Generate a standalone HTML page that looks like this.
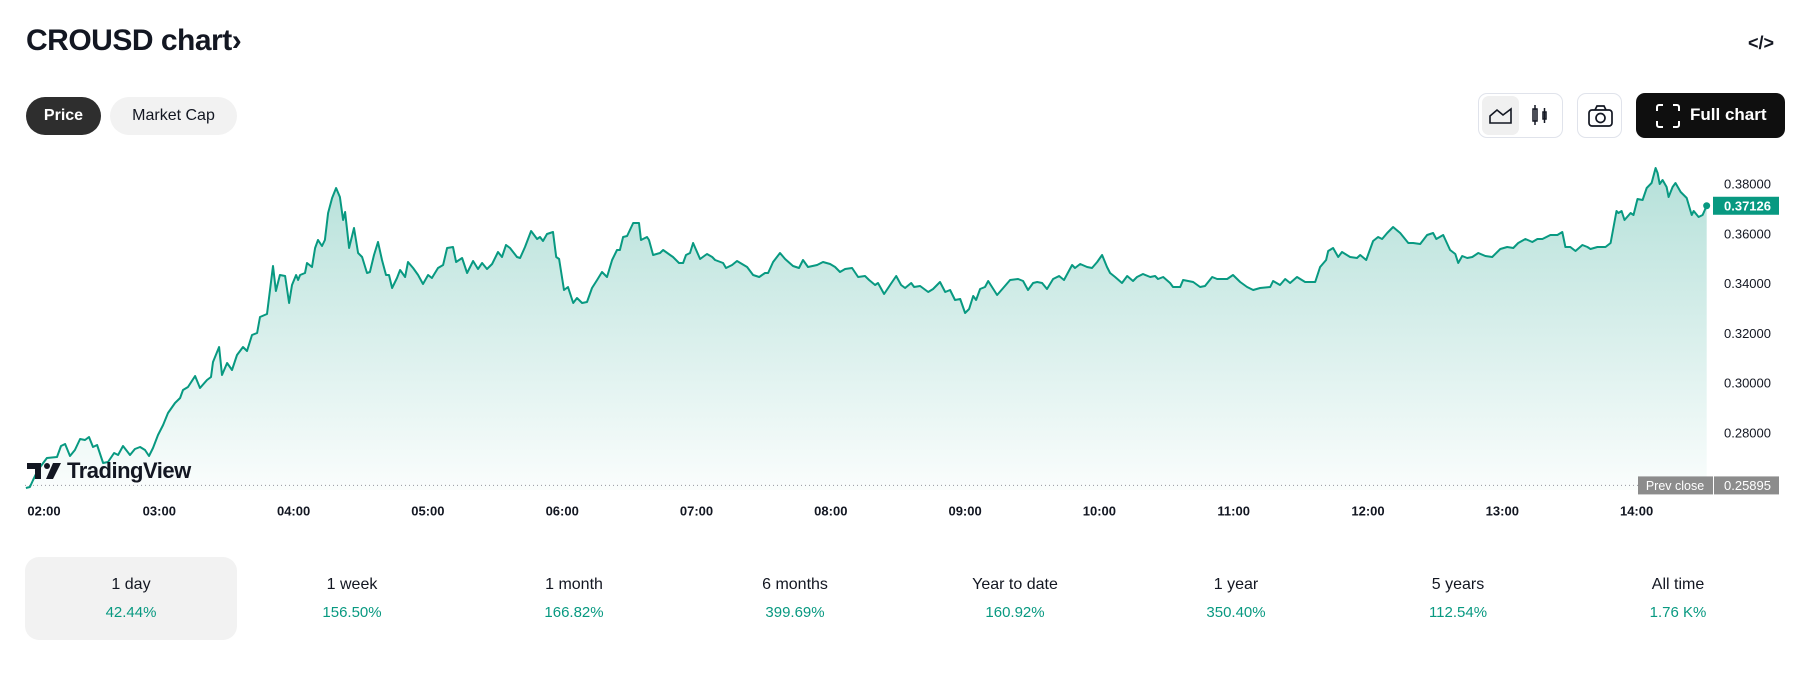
<!DOCTYPE html>
<html><head><meta charset="utf-8">
<style>
*{box-sizing:border-box;margin:0;padding:0}
body{width:1801px;height:698px;background:#fff;font-family:"Liberation Sans",sans-serif;color:#131722;position:relative;overflow:hidden}
.abs{position:absolute}
.pill{position:absolute;top:97px;height:38px;border-radius:19px;font-size:16px;display:flex;align-items:center;justify-content:center}
.btn{position:absolute;top:93px;height:45px;border:1px solid #e0e3eb;border-radius:9px}
.tab{position:absolute;top:557px;width:212px;height:83px;border-radius:14px;text-align:center}
.tab .l{position:absolute;top:19px;width:100%;font-size:16px;color:#131722}
.tab .v{position:absolute;top:47px;width:100%;font-size:15px;color:#089981}
</style></head><body>
<div class="abs" style="left:26px;top:24px;font-size:30px;font-weight:bold;letter-spacing:-0.5px">CROUSD chart<span style="font-size:30px">›</span></div>
<div class="abs" style="left:1748px;top:33px;font-size:18px;font-weight:bold">&lt;/&gt;</div>
<div class="pill" style="left:26px;width:75px;background:#2e2e2e;color:#fff;font-weight:bold">Price</div>
<div class="pill" style="left:110px;width:127px;background:#f2f2f2">Market Cap</div>
<div class="btn" style="left:1478px;width:85px">
  <div style="position:absolute;left:3px;top:2px;width:37px;height:39px;background:#f0f0f0;border-radius:7px">
    <svg width="37" height="39"><path d="M8 27 V20 L15 14 L21 19 L29 13 V27 Z" fill="none" stroke="#131722" stroke-width="1.6"/></svg></div>
  <div style="position:absolute;left:44px;top:2px;width:37px;height:39px">
    <svg width="37" height="39"><rect x="10" y="13" width="4" height="12" fill="none" stroke="#131722" stroke-width="1.5"/><line x1="12" y1="9" x2="12" y2="29" stroke="#131722" stroke-width="1.5"/><rect x="20" y="16" width="3" height="7" fill="none" stroke="#131722" stroke-width="1.5"/><line x1="21.5" y1="12" x2="21.5" y2="27" stroke="#131722" stroke-width="1.5"/></svg></div>
</div>
<div class="btn" style="left:1577px;width:45px">
  <svg width="45" height="45"><rect x="11" y="16" width="23" height="16" rx="3" fill="none" stroke="#131722" stroke-width="1.7"/><path d="M17 16 L19 12 H26 L28 16" fill="none" stroke="#131722" stroke-width="1.7"/><circle cx="22.5" cy="24" r="4.5" fill="none" stroke="#131722" stroke-width="1.7"/></svg></div>
<div class="abs" style="left:1636px;top:93px;width:149px;height:45px;background:#0f0f0f;border-radius:9px;color:#fff;font-weight:bold;font-size:17px">
  <svg class="abs" style="left:20px;top:11px" width="24" height="24"><path d="M1 7V3a2 2 0 0 1 2-2h4M17 1h4a2 2 0 0 1 2 2v4M23 17v4a2 2 0 0 1-2 2h-4M7 23H3a2 2 0 0 1-2-2v-4" fill="none" stroke="#fff" stroke-width="2"/></svg>
  <span class="abs" style="left:54px;top:12px">Full chart</span></div>

<svg id="chart" class="abs" style="left:0;top:150px" width="1801" height="380">
  <defs><linearGradient id="g" x1="0" y1="0" x2="0" y2="1"><stop offset="0" stop-color="#089981" stop-opacity="0.3"/><stop offset="1" stop-color="#089981" stop-opacity="0.02"/></linearGradient></defs>
  <g id="plot"></g>
</svg>
<div class="abs" style="left:27px;top:459px;height:24px;display:flex;align-items:center;background:rgba(255,255,255,0.0)">
  <svg width="36" height="20"><path d="M0 2H14V18H8V8H0Z" fill="#131722"/><circle cx="20" cy="5" r="3" fill="#131722"/><path d="M26 2H34L26 18H19Z" fill="#131722"/></svg>
  <span style="font-size:22px;font-weight:bold;margin-left:4px;letter-spacing:-0.5px">TradingView</span></div>

<div class="tab" style="left:25px;background:#f2f2f2"><div class="l">1 day</div><div class="v">42.44%</div></div>
<div class="tab" style="left:246px"><div class="l">1 week</div><div class="v">156.50%</div></div>
<div class="tab" style="left:468px"><div class="l">1 month</div><div class="v">166.82%</div></div>
<div class="tab" style="left:689px"><div class="l">6 months</div><div class="v">399.69%</div></div>
<div class="tab" style="left:909px"><div class="l">Year to date</div><div class="v">160.92%</div></div>
<div class="tab" style="left:1130px"><div class="l">1 year</div><div class="v">350.40%</div></div>
<div class="tab" style="left:1352px"><div class="l">5 years</div><div class="v">112.54%</div></div>
<div class="tab" style="left:1572px"><div class="l">All time</div><div class="v">1.76 K%</div></div>

<script>
const minutes=[0.4,2.2,3.6,5.8,9.8,14.3,16.1,17.9,20.1,22.3,24.6,26.8,28.6,30.4,32.2,34.9,37.1,39.8,41.6,43.8,46.9,49.1,51.4,53.6,55.4,57.2,59.4,61.7,63.9,67.0,69.3,70.6,72.8,76.0,78.2,81.3,83.1,84.0,86.7,88.0,90.3,92.5,94.7,97.4,99.2,101.4,103.7,105.0,108.1,110.8,112.1,113.9,116.2,118.0,119.3,121.1,122.0,122.9,125.1,126.0,128.2,129.6,130.9,132.7,134.0,135.4,137.2,139.0,140.7,142.1,143.0,144.8,147.0,148.8,150.6,152.8,154.1,155.9,157.7,159.5,161.3,162.6,164.0,166.2,167.6,169.8,171.1,173.4,175.6,177.8,180.1,181.8,184.5,186.8,188.6,191.2,192.6,195.3,197.5,200.2,202.4,204.2,206.4,208.7,211.3,213.1,214.9,216.7,219.8,221.2,223.4,226.1,228.8,230.1,231.4,233.2,235.9,237.3,238.6,240.8,242.6,244.9,246.6,248.9,251.1,253.3,255.6,257.8,260.0,262.3,264.5,265.8,267.2,269.0,271.7,274.3,275.2,277.9,278.8,280.6,283.7,285.1,288.2,289.5,292.2,294.0,295.3,297.1,298.5,301.6,304.7,307.0,308.3,311.9,313.2,315.9,318.1,322.6,325.3,328.0,330.6,332.0,334.2,337.3,339.6,343.1,345.8,347.6,349.8,353.9,356.5,359.7,361.9,364.1,366.4,369.5,372.2,375.3,377.1,379.8,381.1,383.8,386.5,389.2,391.4,393.2,395.9,397.2,399.9,403.5,405.7,408.8,411.1,413.3,415.5,417.8,420.0,421.8,423.6,424.9,426.7,428.9,430.3,434.3,437.0,440.1,443.7,445.9,448.1,450.4,452.2,454.4,456.6,459.3,462.0,464.2,467.8,469.1,471.4,474.5,476.7,479.0,481.2,483.4,484.8,487.0,490.1,492.4,495.0,496.8,499.5,502.7,504.9,506.2,508.5,511.6,512.9,516.1,517.4,521.9,525.0,527.2,530.4,532.6,537.1,539.7,542.9,546.0,548.7,551.8,556.3,557.6,560.7,563.0,565.2,568.3,571.9,576.4,578.6,581.3,582.2,584.4,586.7,588.4,592.0,595.1,596.5,599.2,602.3,604.5,606.3,608.6,611.2,614.4,618.0,620.2,623.3,626.4,629.1,630.5,633.6,636.7,639.0,640.3,642.1,644.3,646.6,649.3,652.4,655.5,659.1,662.2,664.9,667.1,670.3,673.4,675.7,677.9,681.5,684.6,686.8,688.2,690.4,692.7,695.8,698.0,699.4,702.5,706.1,708.4,711.0,711.9,713.3,714.6,717.3,718.6,720.4,722.7,724.5,726.7,728.5,729.4,730.3,731.6,733.4,734.3,736.1,737.4,739.7,742.4,744.6,745.5,747.7,749.5,751.3];
const prices=[0.2579,0.25832,0.26113,0.26514,0.26996,0.27036,0.27478,0.27558,0.27076,0.27317,0.27759,0.27719,0.2784,0.27438,0.27518,0.26795,0.26836,0.27197,0.27117,0.27478,0.27117,0.27358,0.27438,0.27317,0.27076,0.27398,0.2792,0.28321,0.28803,0.29205,0.29406,0.29727,0.29848,0.30289,0.29807,0.30129,0.30249,0.30852,0.31454,0.30329,0.30811,0.3053,0.31133,0.31454,0.31293,0.31936,0.32016,0.32659,0.32779,0.34707,0.33703,0.34345,0.34305,0.33221,0.33944,0.34345,0.34145,0.34345,0.34426,0.34827,0.34667,0.3543,0.35751,0.3551,0.35751,0.36835,0.37438,0.37839,0.37478,0.36554,0.36876,0.3543,0.36233,0.35229,0.35068,0.34426,0.34466,0.35149,0.35671,0.34948,0.34345,0.34345,0.33823,0.34225,0.34546,0.34265,0.34868,0.34627,0.34345,0.33984,0.34345,0.34225,0.34627,0.34747,0.3543,0.3547,0.34868,0.35028,0.34426,0.34908,0.34586,0.34827,0.34586,0.34787,0.35269,0.35068,0.3555,0.3543,0.35068,0.35028,0.3547,0.36112,0.35791,0.35872,0.35711,0.35992,0.36072,0.35068,0.34988,0.33743,0.33864,0.33221,0.33422,0.33221,0.33261,0.33823,0.34145,0.34466,0.34265,0.34948,0.35349,0.35349,0.35872,0.35912,0.36434,0.36434,0.35751,0.35872,0.35751,0.35149,0.35229,0.35349,0.35149,0.35068,0.34827,0.34827,0.35149,0.35229,0.35631,0.34988,0.35189,0.35068,0.34948,0.34827,0.34627,0.34747,0.34908,0.34667,0.34345,0.34265,0.34426,0.34426,0.34868,0.35229,0.34988,0.34707,0.34627,0.34948,0.34667,0.34747,0.34868,0.34787,0.34667,0.34466,0.34586,0.34627,0.34265,0.34305,0.34145,0.33944,0.34024,0.33582,0.33944,0.34305,0.33944,0.33823,0.34024,0.33864,0.33904,0.33663,0.33783,0.34064,0.33663,0.33743,0.33341,0.33382,0.32819,0.3298,0.33502,0.33341,0.33783,0.33864,0.34104,0.33542,0.33823,0.34145,0.34185,0.34104,0.33743,0.34024,0.34064,0.34024,0.33783,0.34185,0.34305,0.34145,0.34747,0.34627,0.34787,0.34667,0.34627,0.34868,0.35149,0.34667,0.34426,0.34265,0.34024,0.34305,0.34104,0.34265,0.34386,0.34265,0.34305,0.34185,0.34265,0.34024,0.33864,0.33864,0.34145,0.34064,0.33864,0.33904,0.34265,0.34185,0.34185,0.34345,0.34064,0.33864,0.33743,0.33823,0.33864,0.34104,0.33944,0.34185,0.34024,0.34265,0.34064,0.34064,0.34667,0.34948,0.35309,0.3543,0.35068,0.35269,0.35068,0.35028,0.35149,0.34948,0.35711,0.35872,0.35791,0.36032,0.36273,0.36032,0.35631,0.35631,0.3559,0.35952,0.36032,0.35791,0.35952,0.35349,0.35189,0.34827,0.35108,0.35028,0.35068,0.35229,0.35108,0.35068,0.35389,0.3547,0.3543,0.35631,0.35791,0.35671,0.35791,0.35791,0.35952,0.35952,0.36072,0.3547,0.3547,0.35309,0.3555,0.3547,0.3539,0.3547,0.3547,0.35631,0.36916,0.36835,0.36916,0.36554,0.36835,0.36755,0.37398,0.37357,0.37839,0.3804,0.38643,0.38442,0.38,0.38161,0.3788,0.37478,0.3788,0.3804,0.37679,0.37438,0.36755,0.36916,0.36675,0.36755,0.37126];
const yTicks=[0.38,0.36,0.34,0.32,0.30,0.28];
const yTickLabels=["0.38000","0.36000","0.34000","0.32000","0.30000","0.28000"];
const xTickMinutes=[0,60,120,180,240,300,360,420,480,540,600,660,720];
const xTickLabels=["02:00","03:00","04:00","05:00","06:00","07:00","08:00","09:00","10:00","11:00","11:00","12:00","13:00","14:00"].filter((_,i)=>i!==10);
const prevClose=0.25895;
const lastPrice=0.37126;

const OFF=150;
function X(m){return 25+m*134.3/60;}
function Y(p){return 184+(0.38-p)/0.02*49.8-OFF;}
const NS="http://www.w3.org/2000/svg";
const svg=document.getElementById('chart');
function mk(t,a){const e=document.createElementNS(NS,t);for(const k in a)e.setAttribute(k,a[k]);return e;}
const plot=document.getElementById('plot');
let d=minutes.map((m,i)=>(i?'L':'M')+X(m).toFixed(1)+' '+Y(prices[i]).toFixed(1)).join(' ');
const base=490-OFF;
const area=mk('path',{d:d+' L'+X(minutes[minutes.length-1]).toFixed(1)+' '+base+' L'+X(minutes[0]).toFixed(1)+' '+base+' Z',fill:'url(#g)'});


plot.appendChild(area);
const pl=mk('line',{x1:25,x2:1638,y1:Y(prevClose),y2:Y(prevClose),stroke:'#9598a1','stroke-width':1,'stroke-dasharray':'1 3'});


plot.appendChild(pl);
const line=mk('path',{d:d,fill:'none',stroke:'#089981','stroke-width':2,'stroke-linejoin':'round'});


plot.appendChild(line);
const dot=mk('circle',{cx:X(minutes[minutes.length-1]),cy:Y(lastPrice),r:3.5,fill:'#089981'});


plot.appendChild(dot);
yTicks.forEach((v,i)=>{
  const t=mk('text',{x:1724,y:Y(v)+4.5,'font-size':13,fill:'#131722','font-family':'Liberation Sans, sans-serif'});
  t.textContent=yTickLabels[i];
  
  
  plot.appendChild(t);
});
const lb=mk('rect',{x:1713,y:Y(lastPrice)-9,width:66,height:18,fill:'#089981'});


plot.appendChild(lb);
const lt=mk('text',{x:1724,y:Y(lastPrice)+4.5,'font-size':13,fill:'#fff','font-weight':'bold','font-family':'Liberation Sans, sans-serif'});
lt.textContent=lastPrice.toFixed(5);


plot.appendChild(lt);
const pb1=mk('rect',{x:1638,y:Y(prevClose)-9,width:75,height:18,fill:'#8c8c8c'});


plot.appendChild(pb1);
const pb2=mk('rect',{x:1714,y:Y(prevClose)-9,width:65,height:18,fill:'#8c8c8c'});


plot.appendChild(pb2);
const pt1=mk('text',{x:1675,y:Y(prevClose)+4.5,'font-size':12.5,fill:'#fff','text-anchor':'middle','font-family':'Liberation Sans, sans-serif'});
pt1.textContent='Prev close';


plot.appendChild(pt1);
const pt2=mk('text',{x:1724,y:Y(prevClose)+4.5,'font-size':13,fill:'#fff','font-family':'Liberation Sans, sans-serif'});
pt2.textContent=prevClose.toFixed(5);


plot.appendChild(pt2);
xTickMinutes.forEach((m,i)=>{
  let cx=Math.max(X(m),44);
  const t=mk('text',{x:cx,y:511+4.5-OFF,'font-size':13,'font-weight':'bold',fill:'#131722','text-anchor':'middle','font-family':'Liberation Sans, sans-serif'});
  t.textContent=xTickLabels[i];
  
  
  plot.appendChild(t);
});
</script>
</body></html>
